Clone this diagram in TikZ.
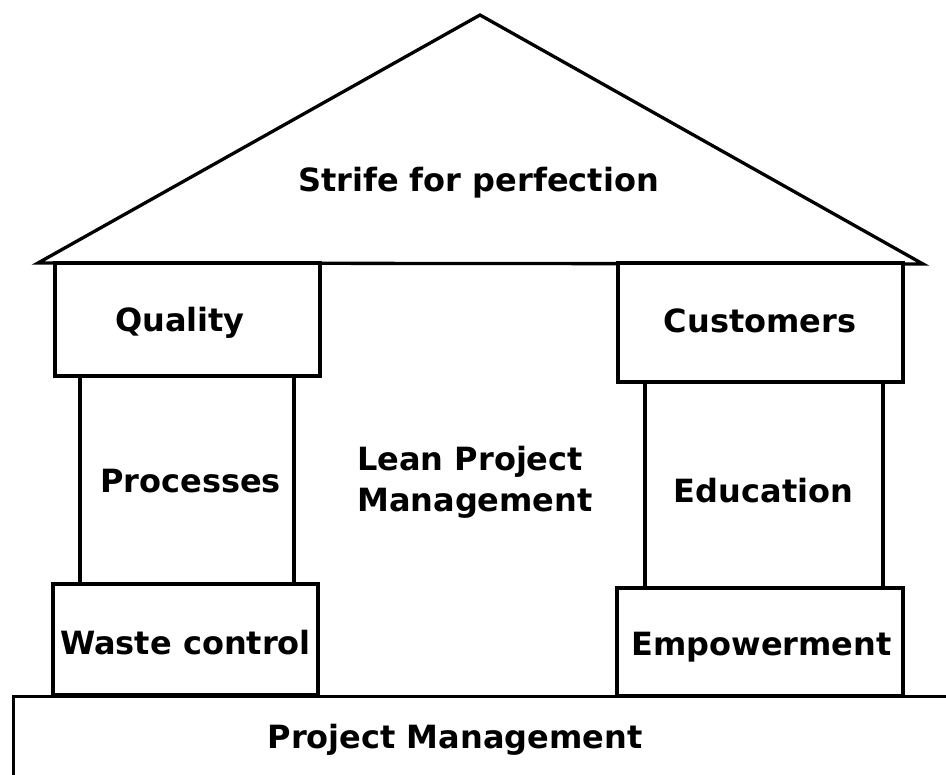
\documentclass[tikz,border=0pt]{standalone}
\usepackage{fontspec}
\setmainfont{DejaVu Sans}
\begin{document}
\begin{tikzpicture}[x=1pt,y=-1pt,
  lw/.style={line width=3.3pt, line join=miter},
  box/.style={lw, draw=black, fill=white, rectangle, inner sep=0pt},
  lbl/.style={inner sep=0pt, anchor=base, font=\fontsize{32}{41}\selectfont\bfseries}]
\useasboundingbox (0,0) rectangle (946,775);
% base
\begin{scope}
\clip (0,0) rectangle (946,775);
\node[box, anchor=north west, minimum width=960pt, minimum height=120pt] (base) at (12,695) {};
\end{scope}
\node[lbl] (basetxt) at (455,748) {Project Management};
% roof
\coordinate (apex) at (480,15);
\coordinate (rl) at (38,263);
\coordinate (rr) at (923,264);
\draw[lw] (rl) -- (apex) -- (rr) -- cycle;
\node[lbl] (roof) at (478.5,192) {Strife for perfection};
% left pillar
\node[box, minimum width=214pt, minimum height=208pt] (proc) at (187,480) {};
\node[box, minimum width=265pt, minimum height=113pt] (qual) at (187.5,319.5) {};
\node[box, minimum width=265pt, minimum height=111pt] (waste) at (185.5,639.5) {};
\node[lbl] (qualtxt) at (180,332) {Quality};
\node[lbl] (proctxt) at (190.5,493) {Processes};
\node[lbl] (wastetxt) at (185.5,654) {Waste control};
% right pillar
\node[box, minimum width=238pt, minimum height=206pt] (edu) at (764,485) {};
\node[box, minimum width=285pt, minimum height=119pt] (cust) at (760.5,322.5) {};
\node[box, minimum width=286pt, minimum height=108pt] (emp) at (760,642) {};
\node[lbl] (custtxt) at (760,333) {Customers};
\node[lbl] (edutxt) at (763.5,503) {Education};
\node[lbl] (emptxt) at (761.5,655) {Empowerment};
% center
\node[lbl, anchor=base west] (lean1) at (357,471) {Lean Project};
\node[lbl, anchor=base west] (lean2) at (357,512) {Management};
\end{tikzpicture}
\end{document}
